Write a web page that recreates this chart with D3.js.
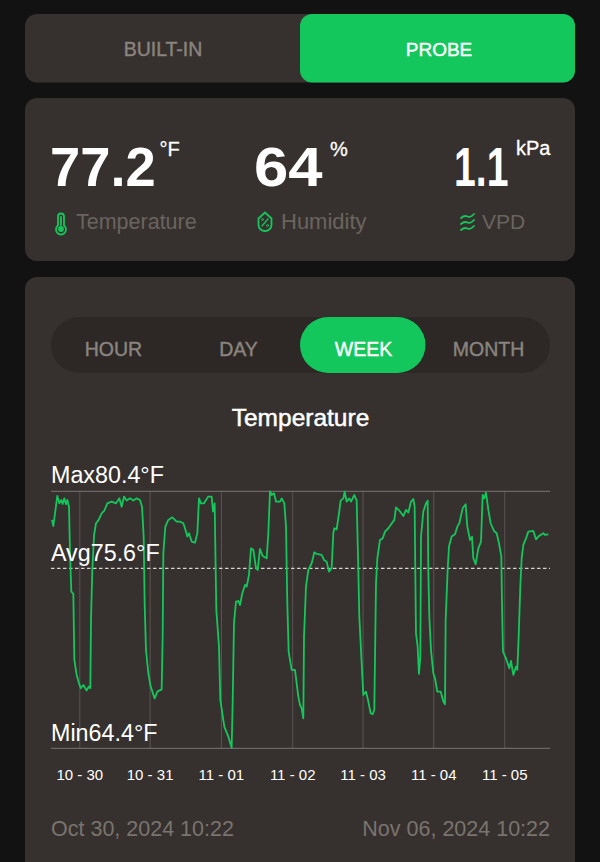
<!DOCTYPE html>
<html lang="en">
<head>
<meta charset="UTF-8">
<title>Temperature</title>
<script src="https://d3js.org/d3.v7.min.js"></script>
<style>
  html, body { margin: 0; padding: 0; background: #121212; overflow: hidden; }
  svg { display: block; }
  text { font-family: "Liberation Sans", Arial, sans-serif; }
</style>
</head>
<body>
<div id="chart"></div>
<script>
// hours since the start of the range
const hours = [0.34,0.79,1.57,2.13,2.81,3.48,3.93,4.49,5.05,5.5,6.06,6.4,6.85,7.52,7.86,8.64,9.43,10,10.9,12,12.7,13.24,13.47,13.9,14.5,15.15,16.05,17.06,17.96,18.97,20.42,21.88,23,23.79,24.58,25.47,26.6,27.72,28.84,29.96,30.64,31.2,31.53,31.98,32.77,33.55,34.9,35.8,37.26,37.59,37.82,38.49,39.5,40.85,42.31,43.43,44.55,45.11,45.9,46.46,47.36,48.48,49.27,49.83,50.5,51.51,52.18,52.97,54.09,54.54,55.1,55.44,55.66,56.56,57.01,58.35,59.7,60.82,61.16,61.61,62.28,63.07,63.63,64.41,65.31,65.87,66.66,67.33,68.12,69.02,69.58,70.36,71.26,72.61,73.17,73.73,74.29,75.07,75.75,77.1,77.66,78.56,79.12,79.56,80.01,81.02,82.14,83.27,83.83,84.39,84.95,85.18,85.85,86.64,87.76,88.66,89.44,91.12,91.91,92.81,93.59,94.49,95.05,95.39,96.17,96.96,97.52,98.42,98.87,99.54,100.44,101,102.12,102.91,103.47,103.8,104.48,105.15,106.05,106.84,107.62,108.29,108.85,109.42,109.87,110.76,111.66,112.45,113.57,114.35,115.59,116.15,117.27,118.62,119.52,120.3,121.2,121.98,122.43,122.66,122.88,123.44,123.89,124.34,124.57,125.35,126.25,126.81,127.03,127.37,127.93,128.72,129.28,130.06,131.19,132.08,132.65,132.87,133.54,133.99,134.89,136.01,136.8,137.47,138.59,139.6,140.16,141.06,141.74,142.18,142.97,143.87,144.77,145.33,145.89,146.45,147.24,148.02,149.14,150.04,150.83,151.61,151.84,152.17,153.18,154.3,154.87,155.65,156.55,157,157.45,158.01,158.46,159.02,159.92,160.7,162.39,163.28,164.07,165.75,166.31,167.43];
const temps = [78.62,78.24,79.34,80.11,79.65,79.86,79.61,79.96,79.59,79.86,79.44,76.54,74.15,74.01,69.9,68.97,68.45,68.14,68.34,68,68.24,68.14,72.39,75.5,77.68,78.41,78.62,79.03,79.2,79.65,79.76,79.65,79.96,79.44,80.07,79.82,79.96,79.82,79.96,79.86,79.44,77.58,73.43,70.52,69.07,68.24,67.51,67.93,68.07,71.35,76.54,78.2,78.62,78.78,78.51,78.51,78.41,78.1,77.58,77.79,77.27,77.2,77.79,79.96,79.65,79.65,79.86,80.07,80.07,79.14,79.65,75.5,73.01,70.73,67.41,65.75,65.13,64.44,67.2,72.18,73.53,73.57,73.32,74.05,74.57,74.47,75.19,76.85,76.75,75.61,75.5,76.81,76.37,76.23,77.79,80.4,80.17,80.28,79.76,79.76,79.96,79.65,78.2,73.43,70.42,69.28,69.28,67.62,67.1,66.89,66.27,71.35,74.47,75.5,75.92,76.6,76.5,76.44,76.13,76.02,75.4,75.61,77.79,78.1,78.03,79.03,79.82,79.96,80.38,79.76,79.96,79.76,80.17,79.82,75.5,72.6,70.11,67.72,67.93,67.31,66.58,66.52,66.79,74.67,76.23,77.37,77.47,77.89,78.1,78.3,78.62,79.4,79.2,78.86,79.24,79.07,79.76,79.92,79.44,75.3,71.56,70.73,69.03,70.11,77.58,79.14,79.65,79.82,75.5,72.6,70.52,69.07,68.76,67.93,67.93,67.31,67.14,72.39,75.5,76.96,77.58,77.72,78.2,78.41,79.34,79.59,78.2,77.37,77.58,76.23,75.86,76.85,77.27,80.17,79.96,80.32,79.24,78.41,77.93,77.79,77.16,76.33,73.43,70.42,70,69.38,69.84,68.97,69.48,69.28,71.35,74.47,76.23,77.06,77.47,77.89,77.93,77.41,77.58,77.79,77.68,77.72];

const tickHours = [9.53,33.2,57.2,81.2,104.9,128.7,152.6];
const tickLabels = ["10 - 30","10 - 31","11 - 01","11 - 02","11 - 03","11 - 04","11 - 05"];
const sources = ["BUILT-IN","PROBE"];
const ranges = ["HOUR","DAY","WEEK","MONTH"];
const maxTemp = 80.4, avgTemp = 75.6, minTemp = 64.4;

const GREEN = "#14c75c", PANEL = "#36312e", GREY = "#6a645f", TAB = "#8a847f", PILL = "#2d2826";

const svg = d3.select("#chart").append("svg").attr("width", 600).attr("height", 862);

function rect(g, x, y, w, h, r, fill) {
  return g.append("rect").attr("x", x).attr("y", y).attr("width", w).attr("height", h).attr("rx", r).attr("fill", fill);
}
function label(g, x, y, str, size, fill, anchor, weight) {
  return g.append("text").attr("x", x).attr("y", y).attr("font-size", size).attr("fill", fill)
    .attr("text-anchor", anchor || "start").attr("font-weight", weight || 400).text(str);
}
// fake a medium weight, Liberation only has regular and bold
function medium(t, w) {
  return t.attr("stroke", t.attr("fill")).attr("stroke-width", w || 0.4);
}
// big reading, squeezed or stretched sideways to the width in the picture
function reading(x, str, sx) {
  return label(svg, 0, 0, str, 56, "#fff", "start", 700).attr("transform", `translate(${x},186) scale(${sx},1)`);
}

// panels
rect(svg, 25, 14, 550, 68.5, 12, PANEL);
rect(svg, 25, 98, 550, 163, 12, PANEL);
rect(svg, 25, 277, 550, 600, 12, PANEL);

// built-in / probe
rect(svg, 300, 14, 275, 68.5, 12, GREEN);
medium(label(svg, 163, 55.5, sources[0], 19.5, TAB, "middle"));
medium(label(svg, 439, 55.5, sources[1], 19, "#fff", "middle"));

// readings
reading(50, "77.2", 0.97);
medium(label(svg, 159.5, 156, "°F", 20, "#fff"), 0.3);
reading(254, "64", 1.1);
medium(label(svg, 330, 156, "%", 20, "#fff"), 0.3);
reading(454, "1.1", 0.7);
medium(label(svg, 516, 155, "kPa", 20, "#fff"), 0.3);
label(svg, 76, 229, "Temperature", 21.5, GREY);
label(svg, 281, 229, "Humidity", 22, GREY);
label(svg, 482, 229, "VPD", 21, GREY);

// reading icons
const icon = svg.append("g").attr("fill", "none").attr("stroke", GREEN).attr("stroke-width", 1.8).attr("stroke-linecap", "round");
icon.append("path").attr("d", "M58 216.5a3 3 0 0 1 6 0v9a5 5 0 1 1-6 0z");
icon.append("circle").attr("cx", 61).attr("cy", 229).attr("r", 2).attr("fill", GREEN);
icon.append("path").attr("d", "M61 225v-8");
icon.append("path").attr("d", "M265 212.5l6.5 6v6.5a6.5 6 0 0 1-13 0v-6.5z");
icon.append("path").attr("d", "M268 219l-6 7").attr("stroke-width", 1.3);
icon.append("circle").attr("cx", 262.5).attr("cy", 219.5).attr("r", 1).attr("stroke-width", 1);
icon.append("circle").attr("cx", 267.5).attr("cy", 225.5).attr("r", 1).attr("stroke-width", 1);
[216, 222, 228].forEach(y => {
  icon.append("path").attr("d", `M461 ${y + 2}q3.5 -3 6.5 -1.5t6.5 -2.5`);
});

// range selector
rect(svg, 51, 317, 499, 56, 28, PILL);
rect(svg, 300, 317, 125.5, 56, 28, GREEN);
const rangeX = d3.scalePoint().domain(ranges).range([113.5, 488.5]);
ranges.forEach(r => medium(label(svg, rangeX(r), 356, r, 19.5, r === "WEEK" ? "#fff" : TAB, "middle")));

medium(label(svg, 300.5, 426, "Temperature", 24.5, "#fff", "middle"), 0.5);

// chart
const x = d3.scaleLinear().domain([0, 168]).range([51, 550]);
const y = d3.scaleLinear().domain([minTemp, maxTemp]).range([748.3, 491.3]);

const grid = svg.append("g").attr("transform", "translate(0,748.3)")
  .call(d3.axisBottom(x).tickValues(tickHours).tickFormat((d, i) => tickLabels[i]).tickSize(-257).tickPadding(21));
grid.select(".domain").remove();
grid.selectAll("line").attr("stroke", "#5a5552").attr("stroke-width", 1);
grid.selectAll("text").attr("fill", "#fff").attr("font-size", 15).attr("font-family", '"Liberation Sans", Arial, sans-serif');

[maxTemp, minTemp].forEach(v => {
  svg.append("line").attr("x1", 51).attr("x2", 550).attr("y1", y(v)).attr("y2", y(v))
    .attr("stroke", "#7b7672").attr("stroke-width", 1);
});
svg.append("line").attr("x1", 51).attr("x2", 550).attr("y1", y(avgTemp)).attr("y2", y(avgTemp))
  .attr("stroke", "#d6d3d0").attr("stroke-width", 1.3).attr("stroke-dasharray", "3.5 2.5");

const line = d3.line().x((d, i) => x(hours[i])).y(d => y(d));
svg.append("path").datum(temps).attr("d", line)
  .attr("fill", "none").attr("stroke", GREEN).attr("stroke-width", 1.8).attr("stroke-linejoin", "round");

label(svg, 51, 483, "Max" + maxTemp + "°F", 23.3, "#fff");
label(svg, 51, 561, "Avg" + avgTemp + "°F", 23.3, "#fff");
label(svg, 51, 741, "Min" + minTemp + "°F", 23.3, "#fff");

label(svg, 51, 836, "Oct 30, 2024 10:22", 21.5, "#7a746f");
label(svg, 550, 836, "Nov 06, 2024 10:22", 21.5, "#7a746f", "end");
</script>
</body>
</html>
